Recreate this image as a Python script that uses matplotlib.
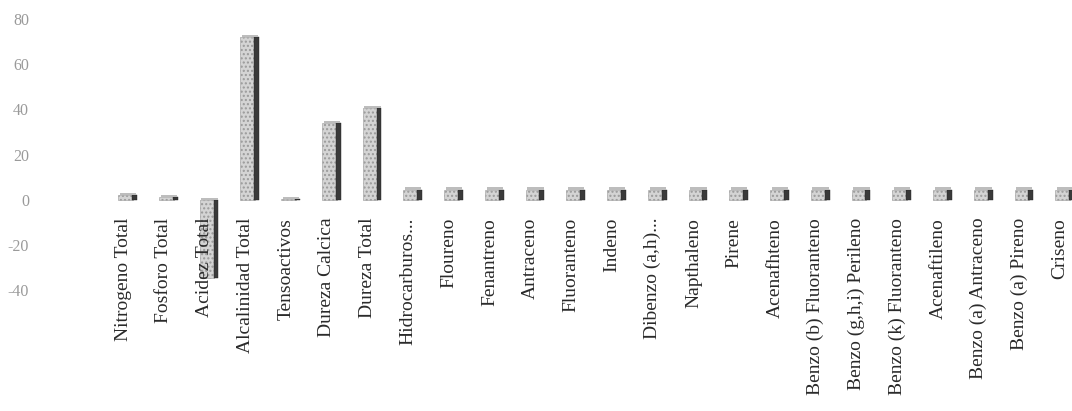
import numpy as np
import matplotlib
matplotlib.use("Agg")
import matplotlib.pyplot as plt

categories = ["Nitrogeno Total", "Fosforo Total", "Acidez Total", "Alcalinidad Total",
              "Tensoactivos", "Dureza Calcica", "Dureza Total", "Hidrocarburos...",
              "Floureno", "Fenantreno", "Antraceno", "Fluoranteno", "Indeno",
              "Dibenzo (a,h)...", "Napthaleno", "Pirene", "Acenafhteno",
              "Benzo (b) Fluoranteno", "Benzo (g,h,i) Perileno", "Benzo (k) Fluoranteno",
              "Acenaftileno", "Benzo (a) Antraceno", "Benzo (a) Pireno", "Criseno"]
values = [2.0, 1.0, -34.5, 72.0, 0.5, 34.0, 40.5, 4.5,
          4.5, 4.5, 4.5, 4.5, 4.5, 4.5, 4.5, 4.5, 4.5,
          4.5, 4.5, 4.5, 4.5, 4.5, 4.5, 4.5]
y_ticks = [-40, -20, 0, 20, 40, 60, 80]

x = np.arange(len(categories))
vals = np.array(values)

fig = plt.figure(figsize=(10.72, 4.11), dpi=100)
ax = fig.add_axes([40 / 1072, 1 - 290 / 411, 1 - 40 / 1072, (290 - 19) / 411])

# front face (stippled light grey), dark right side, lighter top
ax.bar(x - 0.06, vals, width=0.36, color="#d4d4d4", edgecolor="#9a9a9a",
       hatch="....", linewidth=0.4, zorder=2)
ax.bar(x + 0.16, vals, width=0.12, color="#3a3a3a", edgecolor="#222222",
       linewidth=0.3, zorder=2)
top = np.where(vals >= 0, vals, 0)
ax.bar(x + 0.0, np.full(len(x), 0.9), bottom=top, width=0.40, color="#bdbdbd",
       edgecolor="none", zorder=3)

ax.set_xlim(-2.16, 23.17)
ax.set_ylim(-40, 80)
ax.set_yticks(y_ticks)
ax.set_yticklabels([str(t) for t in y_ticks], fontsize=11.5, color="#9a9a9a",
                   family="Liberation Serif")
ax.set_xticks(x - 0.12)
ax.set_xticklabels(categories, rotation=90, fontsize=14, color="#2a2a2a",
                   family="Liberation Serif", va="top")
ax.tick_params(axis="both", length=0)
ax.tick_params(axis="x", pad=-52)
ax.tick_params(axis="y", pad=8)
ax.xaxis.set_zorder(5)  # labels drawn over the negative bar
for s in ax.spines.values():
    s.set_visible(False)

fig.savefig("out.png", dpi=100)
